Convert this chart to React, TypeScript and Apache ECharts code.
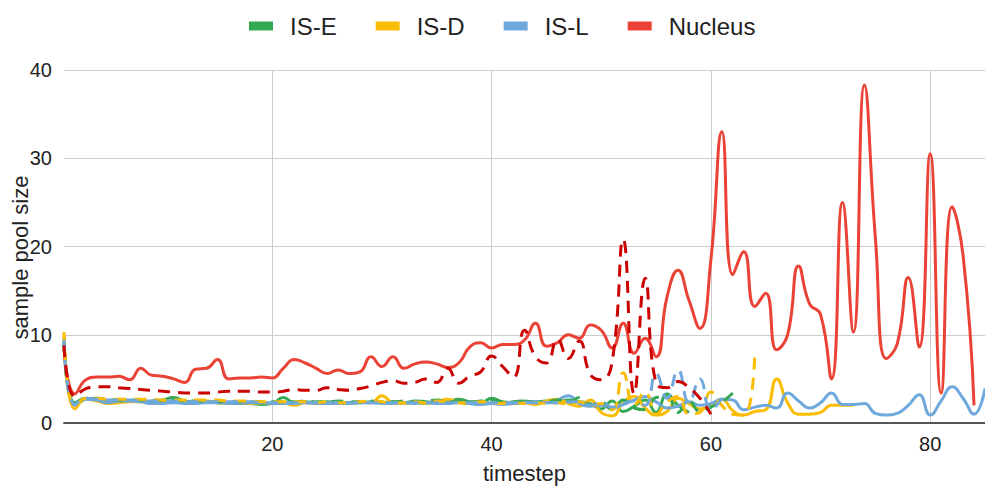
import React, { useEffect, useRef } from "react";
import * as echarts from "echarts";

const legendNames = ["IS-E", "IS-D", "IS-L", "Nucleus"];
const xTicks = [20, 40, 60, 80];
const yTicks = [0, 10, 20, 30, 40];

// values start at timestep 1
const isESolid = [9.2, 2.3, 2.8, 2.6, 2.5, 2.6, 2.5, 2.5, 2.4, 2.6, 2.9, 2.5, 2.4, 2.4, 2.3, 2.3, 2.2, 2.2, 2.1, 2.2,
  2.9, 2.3, 2.4, 2.3, 2.4, 2.3, 2.3, 2.3, 2.4, 2.3, 2.4, 2.3, 2.5, 2.4, 2.3, 2.4, 2.7, 2.4, 2.3, 2.8,
  2.4, 2.3, 2.5, 2.4, 2.5, 2.3, 2.6, 2.4, 2.2, 1.6, 2.5, 1.3, 1.9, 2.6, 1.2, 3.3, 2.0, 1.2];
const isEDashed = [9.0, 2.2, 2.7, 2.8, 2.7, 2.6, 2.6, 2.6, 2.5, 2.6, 2.6, 2.5, 2.5, 2.5, 2.4, 2.4, 2.4, 2.4, 2.4, 2.4,
  2.4, 2.4, 2.5, 2.4, 2.4, 2.5, 2.4, 2.4, 2.5, 2.4, 2.4, 2.5, 2.4, 2.5, 2.6, 2.4, 2.5, 2.4, 2.5, 2.6,
  2.3, 2.4, 2.5, 2.3, 2.4, 2.6, 2.3, 2.9, 2.0, 2.4, 1.5, 2.6, 1.7, 1.5, 2.9, 3.0, 1.2, 2.5, 1.3, 1.8,
  2.4, 3.4];
const isDSolid = [10.0, 1.6, 2.7, 2.5, 2.2, 2.3, 2.4, 2.4, 2.3, 2.3, 2.4, 2.3, 2.4, 2.5, 2.3, 2.2, 2.3, 2.2, 2.3, 2.2,
  2.3, 2.0, 2.3, 2.2, 2.3, 2.2, 2.2, 2.4, 2.3, 3.1, 2.3, 2.2, 2.3, 2.2, 2.4, 2.7, 2.3, 2.2, 2.4, 2.2,
  2.3, 2.2, 2.3, 2.1, 2.5, 2.7, 2.2, 1.9, 2.6, 1.2, 0.8, 2.3, 3.0, 1.7, 0.9, 1.3, 2.8, 2.2, 1.6, 1.9,
  2.7, 1.4, 0.9, 1.3, 1.5, 5.0, 2.3, 1.0, 1.0, 1.2, 2.0, 2.0, 2.0];
const isDDashed = [10.3, 1.8, 2.8, 2.8, 2.7, 2.7, 2.7, 2.7, 2.7, 2.6, 2.6, 2.6, 2.6, 2.6, 2.6, 2.5, 2.5, 2.5, 2.4, 2.4,
  2.4, 2.4, 2.4, 2.3, 2.4, 2.3, 2.3, 2.4, 2.5, 2.4, 2.3, 2.3, 2.4, 2.3, 2.5, 2.4, 2.3, 2.3, 2.4, 2.3,
  2.2, 2.3, 2.2, 2.3, 2.2, 2.3, 2.1, 2.4, 2.0, 2.2, 1.5, 5.7, 2.0, 3.5, 1.0, 2.4, 3.0, 1.0, 1.2, 3.5,
  2.0, 1.0, 0.9, 7.8];
const isLSolid = [9.6, 2.0, 2.7, 2.6, 2.3, 2.5, 2.5, 2.4, 2.2, 2.2, 2.3, 2.2, 2.2, 2.3, 2.3, 2.2, 2.2, 2.3, 2.3, 2.2,
  2.2, 2.2, 2.3, 2.2, 2.2, 2.2, 2.2, 2.3, 2.3, 2.2, 2.2, 2.3, 2.2, 2.3, 2.2, 2.2, 2.4, 2.2, 2.1, 2.2,
  2.1, 2.2, 2.3, 2.4, 2.3, 2.6, 3.1, 2.2, 1.9, 2.0, 1.7, 2.1, 2.6, 3.0, 2.4, 1.7, 1.9, 2.4, 2.0, 2.2,
  2.7, 2.6, 1.5, 1.8, 2.0, 1.7, 3.4, 2.5, 1.7, 2.3, 3.4, 2.1, 2.1, 2.2, 1.1, 0.9, 1.1, 2.0, 3.2, 0.9,
  2.5, 4.1, 2.8, 1.0, 3.9];
const isLDashed = [9.4, 2.1, 2.8, 2.7, 2.6, 2.6, 2.6, 2.5, 2.5, 2.5, 2.5, 2.4, 2.4, 2.4, 2.4, 2.4, 2.4, 2.4, 2.3, 2.3,
  2.3, 2.3, 2.3, 2.3, 2.3, 2.3, 2.3, 2.3, 2.3, 2.3, 2.3, 2.3, 2.3, 2.3, 2.3, 2.3, 2.3, 2.3, 2.3, 2.3,
  2.3, 2.3, 2.3, 2.3, 2.3, 2.3, 2.4, 2.4, 2.0, 2.3, 1.8, 2.2, 2.5, 2.0, 5.6, 2.8, 6.0, 2.3, 5.0, 1.5,
  2.8];
const nucleusSolid = [8.5, 3.3, 4.9, 5.2, 5.2, 5.3, 4.9, 6.2, 5.4, 5.3, 5.0, 4.6, 6.1, 6.2, 7.2, 5.0, 5.1, 5.1, 5.2, 5.1,
  6.2, 7.2, 6.8, 6.2, 5.6, 6.0, 5.6, 5.8, 7.5, 6.4, 7.5, 6.2, 6.7, 6.9, 6.7, 6.3, 6.8, 8.6, 9.1, 8.5,
  8.9, 8.9, 9.4, 11.3, 8.7, 9.1, 10.0, 9.6, 11.1, 10.5, 8.5, 11.3, 7.9, 9.6, 7.5, 14.3, 17.3, 13.9, 10.7, 18.5,
  33.0, 16.8, 19.4, 13.2, 14.7, 8.3, 10.0, 17.8, 13.5, 12.3, 5.0, 25.0, 10.3, 38.3, 21.0, 7.3, 9.0, 16.5, 8.6, 30.5,
  3.4, 24.5, 19.0, 2.0];
const nucleusDashed = [8.8, 3.0, 3.9, 4.1, 4.1, 4.0, 3.9, 3.8, 3.7, 3.6, 3.5, 3.4, 3.4, 3.4, 3.5, 3.6, 3.6, 3.6, 3.5, 3.5,
  3.6, 3.8, 3.7, 3.7, 4.0, 3.8, 3.7, 3.9, 4.2, 4.6, 4.8, 4.5, 4.6, 5.0, 4.6, 6.2, 4.5, 5.3, 5.8, 7.6,
  6.4, 5.2, 10.5, 7.5, 6.8, 9.5, 7.3, 9.3, 5.5, 4.9, 7.0, 20.8, 3.3, 16.4, 4.5, 4.0, 4.7, 4.0, 2.8, 1.0];

const GREEN = "#34a853";
const YELLOW = "#fbbc04";
const BLUE = "#6fa8dc";
const RED = "#ea4335";
const DARK_RED = "#cc0000";
const FONT = "'Liberation Sans', Arial, sans-serif";

const toPairs = (vals: number[]) => vals.map((v, i) => [i + 1, v]);

export default function App() {
  const ref = useRef<HTMLDivElement>(null);
  useEffect(() => {
    if (!ref.current) return;
    const chart = echarts.init(ref.current, undefined, { renderer: "svg" });
    const line = (name: string, data: number[], color: string, dashed: boolean) => ({
      name,
      type: "line",
      data: toPairs(data),
      smooth: 0.5,
      showSymbol: false,
      symbol: "none",
      color,
      lineStyle: { color, width: 3, type: dashed ? [12, 8] : "solid" },
      emphasis: { disabled: true },
    });
    chart.setOption({
      animation: false,
      textStyle: { fontFamily: FONT },
      legend: {
        data: legendNames,
        top: 9,
        left: 244,
        icon: "rect",
        itemWidth: 24,
        itemHeight: 9,
        itemGap: 39,
        textStyle: { fontSize: 24, color: "#222", fontFamily: FONT, padding: [0, 0, 0, 12] },
      },
      grid: { left: 64, right: 0, top: 70, bottom: 63, containLabel: false, outerBoundsMode: "none" },
      xAxis: {
        type: "value",
        min: 1,
        max: 85,
        name: "timestep",
        nameLocation: "middle",
        nameGap: 39,
        nameMoveOverlap: false,
        nameTextStyle: { fontSize: 22, color: "#222", fontFamily: FONT },
        axisLine: { show: true, onZero: false, lineStyle: { color: "#555", width: 2 } },
        axisTick: { show: false, customValues: xTicks },
        axisLabel: { customValues: xTicks, fontSize: 20, color: "#222", margin: 11, fontFamily: FONT },
        splitLine: { show: true, lineStyle: { color: "#ccc", width: 1 } },
      },
      yAxis: {
        type: "value",
        min: yTicks[0],
        max: yTicks[yTicks.length - 1],
        interval: 10,
        name: "sample pool size",
        nameLocation: "middle",
        nameGap: 33,
        nameMoveOverlap: false,
        nameTextStyle: { fontSize: 22, color: "#222", fontFamily: FONT, padding: [0, 22, 0, 0] },
        axisLine: { show: false },
        axisTick: { show: false },
        axisLabel: { fontSize: 20, color: "#222", margin: 12, fontFamily: FONT },
        splitLine: { show: true, lineStyle: { color: "#ccc", width: 1 } },
      },
      series: [
        line("IS-E", isESolid, GREEN, false),
        line("IS-D", isDSolid, YELLOW, false),
        line("IS-L", isLSolid, BLUE, false),
        line("Nucleus", nucleusSolid, RED, false),
        line("IS-E (dashed)", isEDashed, GREEN, true),
        line("IS-D (dashed)", isDDashed, YELLOW, true),
        line("IS-L (dashed)", isLDashed, BLUE, true),
        line("Nucleus (dashed)", nucleusDashed, DARK_RED, true),
      ],
    });
    return () => chart.dispose();
  }, []);
  return (
    <div
      ref={ref}
      style={{ position: "fixed", left: 0, top: 0, width: 985, height: 486, background: "#fff" }}
    />
  );
}
